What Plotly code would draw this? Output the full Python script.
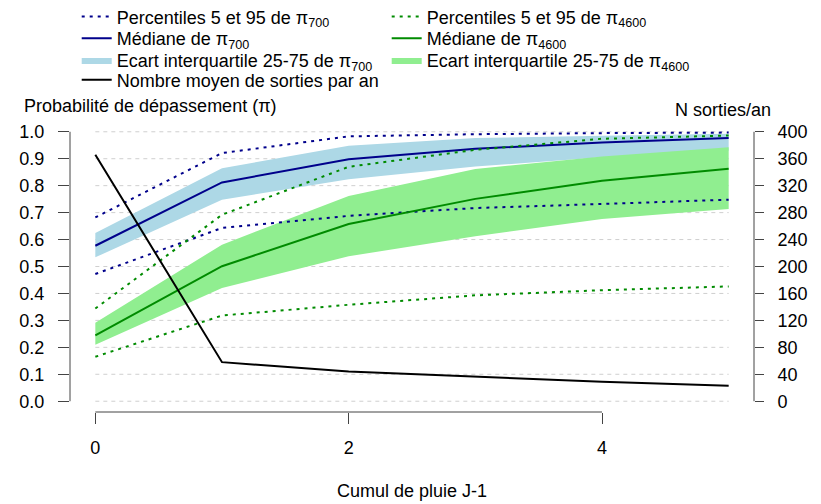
import plotly.graph_objects as go

# ---------------- data ----------------
x_vals = [0, 1, 2, 3, 4, 5]

p700_p05 = [0.472, 0.643, 0.688, 0.717, 0.732, 0.748]
p700_p95 = [0.682, 0.921, 0.983, 0.991, 0.995, 0.997]
p700_q25 = [0.534, 0.748, 0.824, 0.871, 0.905, 0.930]
p700_q75 = [0.624, 0.865, 0.948, 0.977, 0.985, 0.993]
p700_med = [0.577, 0.812, 0.898, 0.937, 0.960, 0.977]

p4600_p05 = [0.165, 0.318, 0.358, 0.393, 0.412, 0.426]
p4600_p95 = [0.344, 0.692, 0.870, 0.933, 0.974, 0.986]
p4600_q25 = [0.210, 0.420, 0.538, 0.612, 0.676, 0.713]
p4600_q75 = [0.291, 0.581, 0.762, 0.862, 0.908, 0.943]
p4600_med = [0.244, 0.501, 0.658, 0.751, 0.818, 0.863]

n_sorties = [366, 58, 44, 36, 29, 23]

x_ticks = [0, 2, 4]
y_ticks = [round(i * 0.1, 1) for i in range(11)]
y2_ticks = list(range(0, 401, 40))

# ---------------- style ----------------
FONT = "Liberation Sans, Arial, sans-serif"
FS = 18
BLUE = "#00008B"
LBLUE = "#ADD8E6"
GREEN = "#008B00"
LGREEN = "#90EE90"
AXC = "#444444"
DOT = "3px,5px"

fig = go.Figure()

# interquartile bands
fig.add_trace(go.Scatter(
    x=x_vals + x_vals[::-1], y=p700_q75 + p700_q25[::-1],
    fill="toself", fillcolor=LBLUE, line=dict(width=0), mode="lines",
    name="Ecart interquartile 25-75 de π<sub>700</sub>",
    legend="legend3", hoverinfo="skip"))
fig.add_trace(go.Scatter(
    x=x_vals + x_vals[::-1], y=p4600_q75 + p4600_q25[::-1],
    fill="toself", fillcolor=LGREEN, line=dict(width=0), mode="lines",
    name="Ecart interquartile 25-75 de π<sub>4600</sub>",
    legend="legend7", hoverinfo="skip"))

# percentiles pi700
fig.add_trace(go.Scatter(
    x=x_vals, y=p700_p95, mode="lines", line=dict(color=BLUE, width=2, dash=DOT),
    name="Percentiles 5 et 95 de π<sub>700</sub>", legendgroup="p700",
    legend="legend"))
fig.add_trace(go.Scatter(
    x=x_vals, y=p700_p05, mode="lines", line=dict(color=BLUE, width=2, dash=DOT),
    name="Percentiles 5 et 95 de π<sub>700</sub>", legendgroup="p700",
    legend="legend", showlegend=False))
# median pi700
fig.add_trace(go.Scatter(
    x=x_vals, y=p700_med, mode="lines", line=dict(color=BLUE, width=2),
    name="Médiane de π<sub>700</sub>", legend="legend2"))

# percentiles pi4600
fig.add_trace(go.Scatter(
    x=x_vals, y=p4600_p95, mode="lines", line=dict(color=GREEN, width=2, dash=DOT),
    name="Percentiles 5 et 95 de π<sub>4600</sub>", legendgroup="p4600",
    legend="legend5"))
fig.add_trace(go.Scatter(
    x=x_vals, y=p4600_p05, mode="lines", line=dict(color=GREEN, width=2, dash=DOT),
    name="Percentiles 5 et 95 de π<sub>4600</sub>", legendgroup="p4600",
    legend="legend5", showlegend=False))
# median pi4600
fig.add_trace(go.Scatter(
    x=x_vals, y=p4600_med, mode="lines", line=dict(color=GREEN, width=2),
    name="Médiane de π<sub>4600</sub>", legend="legend6"))

# number of outings (right axis)
fig.add_trace(go.Scatter(
    x=x_vals, y=n_sorties, mode="lines", line=dict(color="black", width=2),
    name="Nombre moyen de sorties par an", yaxis="y2", legend="legend4"))

# gridlines limited to data x-range
shapes = []
for v in y_ticks:
    shapes.append(dict(type="line", xref="x", yref="y",
                       x0=x_vals[0], x1=x_vals[-1], y0=v, y1=v,
                       line=dict(color="#CFCFCF", width=1, dash="4px,4px"),
                       layer="below"))
# R-style axis lines spanning the tick range
shapes.append(dict(type="line", xref="paper", yref="y", x0=0, x1=0,
                   y0=y_ticks[0], y1=y_ticks[-1], line=dict(color=AXC, width=1)))
shapes.append(dict(type="line", xref="paper", yref="y2", x0=1, x1=1,
                   y0=y2_ticks[0], y1=y2_ticks[-1], line=dict(color=AXC, width=1)))
shapes.append(dict(type="line", xref="x", yref="paper", x0=x_ticks[0], x1=x_ticks[-1],
                   y0=0, y1=0, line=dict(color=AXC, width=1)))

annotations = [
    dict(text="Probabilité de dépassement (π)", xref="paper", yref="paper",
         x=-0.0706, y=1.0515, xanchor="left", yanchor="middle", showarrow=False,
         font=dict(family=FONT, size=FS, color="black")),
    dict(text="N sorties/an", xref="paper", yref="paper",
         x=1.0278, y=1.0378, xanchor="right", yanchor="middle", showarrow=False,
         font=dict(family=FONT, size=FS, color="black")),
    dict(text="Cumul de pluie J-1", xref="paper", yref="paper",
         x=0.5, y=-0.27, xanchor="center", yanchor="middle", showarrow=False,
         font=dict(family=FONT, size=FS, color="black")),
]


def leg(x, y):
    return dict(x=x, y=y, xanchor="left", yanchor="top", orientation="v",
                font=dict(family=FONT, size=FS, color="black"),
                bgcolor="rgba(0,0,0,0)", borderwidth=0, itemwidth=30,
                tracegroupgap=0)


col1, col2 = 0.0098, 0.463
rows = [1.4216, 1.347, 1.2725, 1.204]

fig.update_layout(
    width=813, height=496,
    margin=dict(l=62, r=67, t=113, b=92, autoexpand=False),
    plot_bgcolor="white", paper_bgcolor="white",
    font=dict(family=FONT, size=FS, color="black"),
    xaxis=dict(range=[-0.2, 5.2], tickvals=x_ticks, showgrid=False, zeroline=False,
               showline=False, ticks="outside", ticklen=11, tickcolor=AXC,
               tickwidth=1, ticklabelstandoff=8, automargin=False,
               tickfont=dict(family=FONT, size=FS, color="black")),
    yaxis=dict(range=[-0.04, 1.04], tickvals=y_ticks, tickformat=".1f",
               showgrid=False, zeroline=False, showline=False, ticks="outside",
               ticklen=11, tickcolor=AXC, tickwidth=1, ticklabelstandoff=10,
               automargin=False,
               tickfont=dict(family=FONT, size=FS, color="black")),
    yaxis2=dict(range=[-16, 416], tickvals=y2_ticks, overlaying="y", side="right",
                showgrid=False, zeroline=False, showline=False, ticks="outside",
                ticklen=9, tickcolor=AXC, tickwidth=1, ticklabelstandoff=10,
                automargin=False,
                tickfont=dict(family=FONT, size=FS, color="black")),
    legend=leg(col1, rows[0]),
    legend2=leg(col1, rows[1]),
    legend3=leg(col1, rows[2]),
    legend4=leg(col1, rows[3]),
    legend5=leg(col2, rows[0]),
    legend6=leg(col2, rows[1]),
    legend7=leg(col2, rows[2]),
    shapes=shapes,
    annotations=annotations,
    showlegend=True,
)

fig.write_html("out.html")
